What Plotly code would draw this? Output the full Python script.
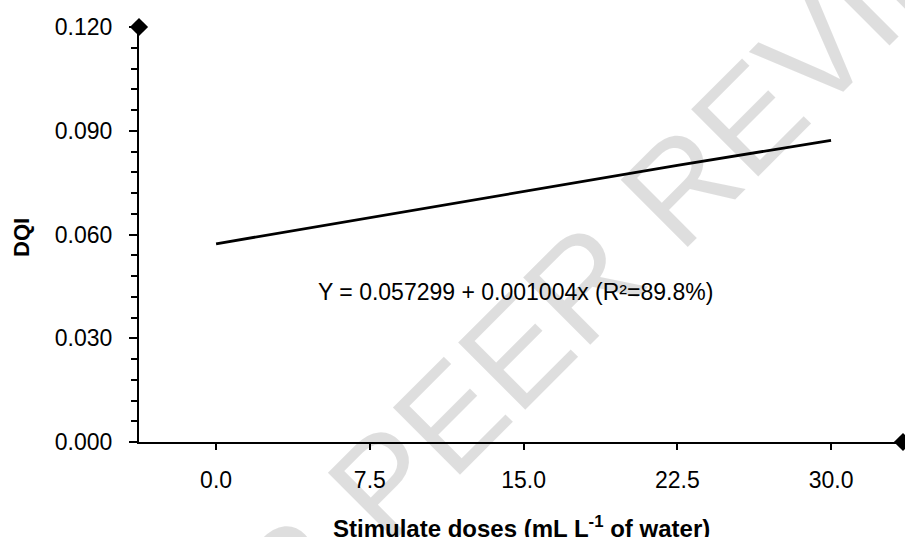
import plotly.graph_objects as go

# Data
doses = [0.0, 7.5, 15.0, 22.5, 30.0]
dqi = [0.0573, 0.0649, 0.0723, 0.0800, 0.0872]
x_ticks = [0.0, 7.5, 15.0, 22.5, 30.0]
x_tick_labels = ["0.0", "7.5", "15.0", "22.5", "30.0"]
y_ticks = [0.000, 0.030, 0.060, 0.090, 0.120]
y_tick_labels = ["0.000", "0.030", "0.060", "0.090", "0.120"]
equation = "Y = 0.057299 + 0.001004x (R²=89.8%)"
eq_pos = (14.6, 0.0434)

x_range = [-3.76, 33.51]
y_range = [0.0, 0.12]

FONT = "Liberation Sans, Arial, sans-serif"

fig = go.Figure()

fig.add_trace(go.Scatter(
    x=doses, y=dqi, mode="lines",
    line=dict(color="black", width=2.8),
    showlegend=False, hoverinfo="skip",
))

# arrow-like diamonds at axis ends
fig.add_trace(go.Scatter(
    x=[x_range[0], x_range[1]], y=[y_range[1], y_range[0]],
    mode="markers",
    marker=dict(symbol="diamond", size=14, color="black"),
    cliponaxis=False, showlegend=False, hoverinfo="skip",
))

fig.add_annotation(
    x=eq_pos[0], y=eq_pos[1], xref="x", yref="y",
    text=equation, showarrow=False,
    font=dict(family=FONT, size=23, color="black"),
)

# watermark
fig.add_annotation(
    x=0.479, y=0.193, xref="paper", yref="paper",
    xanchor="center", yanchor="middle",
    text="UNDER PEER REVIEW", showarrow=False, textangle=-45,
    font=dict(family=FONT, size=138, color="rgba(0,0,0,0.13)"),
)

# axis titles
fig.add_annotation(
    x=0.5, y=-85 / 415, xref="paper", yref="paper",
    xanchor="center", yanchor="middle",
    text="<b>Stimulate doses (mL L<sup>-1</sup> of water)</b>", showarrow=False,
    font=dict(family=FONT, size=24, color="black"),
)
fig.add_annotation(
    x=-117 / 764, y=0.4916, xref="paper", yref="paper",
    xanchor="center", yanchor="middle", textangle=-90,
    text="<b>DQI</b>", showarrow=False,
    font=dict(family=FONT, size=22, color="black"),
)

fig.update_layout(
    width=905, height=537,
    margin=dict(l=139, r=2, t=27, b=95, autoexpand=False),
    plot_bgcolor="white", paper_bgcolor="white",
    font=dict(family=FONT, size=23, color="black"),
    showlegend=False,
)

fig.update_xaxes(
    range=x_range, tickvals=x_ticks, ticktext=x_tick_labels,
    showgrid=False, zeroline=False,
    showline=True, linecolor="black", linewidth=2,
    ticks="outside", ticklen=6, tickwidth=2, tickcolor="black",
    ticklabelstandoff=10,
    tickfont=dict(family=FONT, size=23, color="black"),
)

fig.update_yaxes(
    range=y_range, tickvals=y_ticks, ticktext=y_tick_labels,
    showgrid=False, zeroline=False,
    showline=True, linecolor="black", linewidth=2,
    ticks="outside", ticklen=8, tickwidth=2, tickcolor="black",
    ticklabelstandoff=12,
    minor=dict(dtick=0.006, ticks="outside", ticklen=6, tickwidth=2, tickcolor="black"),
    tickfont=dict(family=FONT, size=23, color="black"),
)

fig.write_html(
    "out.html",
    config={"displayModeBar": False},
    post_script=(
        "document.documentElement.style.overflow='hidden';"
        "document.body.style.overflow='hidden';"
        "document.body.style.margin='0';"
        "document.body.style.padding='0';"
    ),
)
